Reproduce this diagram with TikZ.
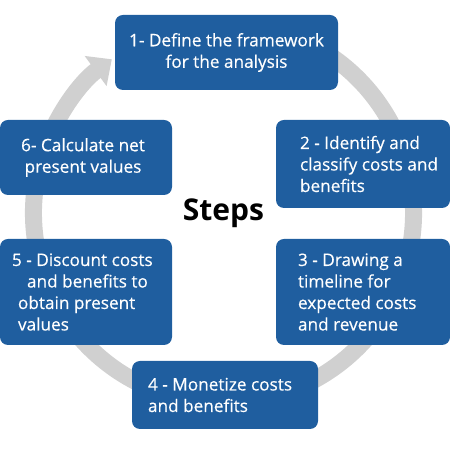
\documentclass[tikz,border=0pt]{standalone}
\usepackage{fontspec}
\setmainfont{Open Sans}
\newfontfamily\stepfont[FakeBold=0.4]{Open Sans}
\definecolor{stepblue}{RGB}{31,94,159}
\definecolor{ringgrey}{RGB}{208,208,208}
\usetikzlibrary{arrows.meta, positioning, calc}
\tikzset{
  stepbox/.style={rectangle, rounded corners=8pt, fill=stepblue, draw=none, inner sep=0pt},
  steptext/.style={text=white, inner sep=0pt, font=\stepfont\fontsize{17.2}{21.5}\selectfont},
  ring/.style={line width=17pt, draw=ringgrey, -{Triangle[width=36pt, length=20pt]}},
  hubtext/.style={font=\fontsize{30}{34}\selectfont\bfseries}
}

\begin{document}
\begin{tikzpicture}[x=1pt, y=1pt]
  \useasboundingbox (0,0) rectangle (450,449);

  % Centre label
  \node (hub) [hubtext] at (223.5,236) {Steps};

  % Grey cycle behind the boxes
  \draw [ring] ($(hub.center)+(70:190)$) arc[start angle=70, end angle=-234, radius=190];

  % Step boxes
  \node (s1) [stepbox, minimum width=223pt, minimum height=75pt] at (226.5,396.5) {};
  \node (s2) [stepbox, minimum width=174pt, minimum height=88pt] at (363,285) {};
  \node (s3) [stepbox, minimum width=174pt, minimum height=106pt] at (363,157) {};
  \node (s4) [stepbox, minimum width=186pt, minimum height=68pt] at (225,54) {};
  \node (s5) [stepbox, minimum width=172pt, minimum height=106pt] at (86,157) {};
  \node (s6) [stepbox, minimum width=172pt, minimum height=75pt] at (86,291.5) {};

  % Texts in the boxes
  \node (t1) [steptext, align=center] at (s1) {1- Define the framework\\for the analysis};
  \node (t2) [steptext, align=left, anchor=west, right=24pt of s2.west] {2 - Identify and\\classify costs and\\benefits};
  \node (t3) [steptext, align=left, anchor=west, right=22pt of s3.west] {3 - Drawing a\\timeline for\\expected costs\\and revenue};
  \node (t4) [steptext, align=left, anchor=west, right=16pt of s4.west] {4 - Monetize costs\\and benefits};
  \node (t5) [steptext, align=left, anchor=west, right=18pt of s5.west] {\hspace*{-6pt}5 - Discount costs\\\hspace*{9pt}and benefits to\\obtain present\\values};
  \node (t6) [steptext, align=center, xshift=-3pt] at (s6) {6- Calculate net\\present values};
\end{tikzpicture}
\end{document}
